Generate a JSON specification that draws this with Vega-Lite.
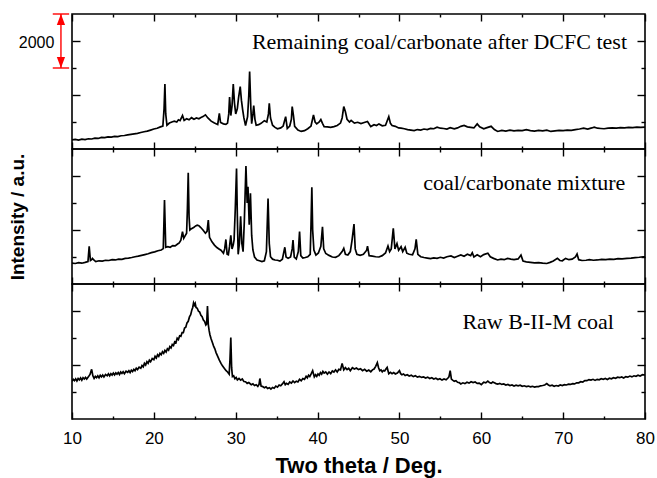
{
  "$schema": "https://vega.github.io/schema/vega-lite/v6.json",
  "background": "white",
  "padding": {"left": 7, "top": 10, "right": 12, "bottom": 4},
  "spacing": 0,
  "bounds": "flush",
  "config": {
    "view": {"stroke": "black", "strokeWidth": 1.6},
    "axis": {
      "domain": false,
      "grid": false,
      "labelFlush": false,
      "tickColor": "black",
      "tickWidth": 1.4,
      "labelFont": "Liberation Sans",
      "labelFontSize": 17,
      "labelColor": "black",
      "titleFont": "Liberation Sans",
      "titleFontWeight": "bold",
      "titleColor": "black"
    },
    "text": {"font": "Liberation Serif", "fontSize": 22, "color": "black"}
  },
  "datasets": {
    "frame": [{"x": 10, "y": 0}, {"x": 80, "y": 5000}],
    "remaining": [
      {"x":10.0,"y":340},{"x":10.4,"y":355},{"x":10.8,"y":330},{"x":11.2,"y":365},{"x":11.6,"y":350},{"x":12.0,"y":380},{"x":12.4,"y":370},{"x":12.8,"y":400},{"x":13.2,"y":390},{"x":13.6,"y":430},{"x":14.0,"y":420},{"x":14.4,"y":450},{"x":14.8,"y":440},{"x":15.2,"y":470},{"x":15.6,"y":460},{"x":16.0,"y":490},{"x":16.4,"y":500},{"x":16.8,"y":520},{"x":17.2,"y":540},{"x":17.6,"y":560},{"x":18.0,"y":580},{"x":18.4,"y":610},{"x":18.8,"y":640},{"x":19.2,"y":660},{"x":19.6,"y":700},{"x":20.0,"y":740},{"x":20.4,"y":770},{"x":20.8,"y":820},{"x":21.1,"y":850},{"x":21.25,"y":1500},{"x":21.35,"y":2410},{"x":21.45,"y":1300},{"x":21.6,"y":880},{"x":21.9,"y":960},{"x":22.2,"y":1000},{"x":22.5,"y":1030},{"x":22.8,"y":1000},{"x":23.0,"y":1080},{"x":23.2,"y":1050},{"x":23.5,"y":1240},{"x":23.7,"y":1060},{"x":24.0,"y":1120},{"x":24.3,"y":1080},{"x":24.6,"y":1160},{"x":24.9,"y":1100},{"x":25.2,"y":1150},{"x":25.5,"y":1120},{"x":25.7,"y":1160},{"x":26.0,"y":1200},{"x":26.3,"y":1265},{"x":26.6,"y":1150},{"x":27.0,"y":1030},{"x":27.4,"y":960},{"x":27.8,"y":910},{"x":28.0,"y":1320},{"x":28.15,"y":980},{"x":28.5,"y":930},{"x":28.8,"y":910},{"x":29.0,"y":960},{"x":29.15,"y":1300},{"x":29.25,"y":1920},{"x":29.4,"y":1240},{"x":29.55,"y":1600},{"x":29.7,"y":2410},{"x":29.85,"y":1700},{"x":30.0,"y":1300},{"x":30.2,"y":1500},{"x":30.35,"y":1900},{"x":30.55,"y":2310},{"x":30.7,"y":1800},{"x":30.85,"y":1450},{"x":31.0,"y":1150},{"x":31.2,"y":870},{"x":31.45,"y":1200},{"x":31.6,"y":2000},{"x":31.7,"y":2870},{"x":31.85,"y":1500},{"x":31.95,"y":940},{"x":32.1,"y":1300},{"x":32.2,"y":1610},{"x":32.35,"y":1100},{"x":32.5,"y":880},{"x":32.8,"y":900},{"x":33.1,"y":950},{"x":33.5,"y":1050},{"x":33.8,"y":1000},{"x":34.0,"y":1300},{"x":34.1,"y":1690},{"x":34.25,"y":1150},{"x":34.5,"y":880},{"x":34.8,"y":800},{"x":35.1,"y":750},{"x":35.5,"y":780},{"x":35.8,"y":850},{"x":36.1,"y":1200},{"x":36.3,"y":760},{"x":36.6,"y":850},{"x":36.8,"y":1100},{"x":36.9,"y":1570},{"x":37.05,"y":1250},{"x":37.2,"y":840},{"x":37.6,"y":700},{"x":38.0,"y":650},{"x":38.4,"y":680},{"x":38.8,"y":750},{"x":39.2,"y":850},{"x":39.5,"y":1260},{"x":39.7,"y":1000},{"x":39.9,"y":930},{"x":40.2,"y":1000},{"x":40.4,"y":1090},{"x":40.6,"y":950},{"x":40.8,"y":830},{"x":41.2,"y":820},{"x":41.6,"y":800},{"x":42.0,"y":830},{"x":42.4,"y":870},{"x":42.8,"y":960},{"x":43.0,"y":1150},{"x":43.2,"y":1570},{"x":43.4,"y":1380},{"x":43.6,"y":1100},{"x":43.9,"y":1000},{"x":44.1,"y":1060},{"x":44.5,"y":960},{"x":44.9,"y":990},{"x":45.3,"y":940},{"x":45.7,"y":980},{"x":46.1,"y":1020},{"x":46.5,"y":830},{"x":46.9,"y":900},{"x":47.2,"y":870},{"x":47.5,"y":930},{"x":47.9,"y":860},{"x":48.3,"y":880},{"x":48.7,"y":1200},{"x":48.9,"y":950},{"x":49.1,"y":870},{"x":49.5,"y":840},{"x":49.9,"y":780},{"x":50.2,"y":770},{"x":50.6,"y":750},{"x":51.0,"y":720},{"x":51.4,"y":700},{"x":51.8,"y":680},{"x":52.2,"y":720},{"x":52.6,"y":700},{"x":53.0,"y":740},{"x":53.4,"y":720},{"x":53.8,"y":760},{"x":54.2,"y":750},{"x":54.6,"y":810},{"x":55.0,"y":770},{"x":55.4,"y":760},{"x":55.8,"y":740},{"x":56.2,"y":790},{"x":56.7,"y":750},{"x":57.1,"y":780},{"x":57.5,"y":840},{"x":57.9,"y":870},{"x":58.3,"y":820},{"x":58.7,"y":800},{"x":59.1,"y":780},{"x":59.5,"y":930},{"x":59.8,"y":820},{"x":60.3,"y":750},{"x":60.7,"y":790},{"x":61.2,"y":840},{"x":61.6,"y":720},{"x":62.0,"y":650},{"x":62.5,"y":690},{"x":63.0,"y":660},{"x":63.5,"y":700},{"x":64.0,"y":670},{"x":64.5,"y":690},{"x":65.0,"y":680},{"x":65.5,"y":720},{"x":66.0,"y":680},{"x":66.5,"y":660},{"x":67.0,"y":690},{"x":67.5,"y":670},{"x":68.0,"y":700},{"x":68.5,"y":650},{"x":69.0,"y":670},{"x":69.5,"y":690},{"x":70.0,"y":680},{"x":70.5,"y":700},{"x":71.0,"y":690},{"x":71.5,"y":720},{"x":72.0,"y":740},{"x":72.5,"y":770},{"x":73.0,"y":740},{"x":73.5,"y":780},{"x":73.8,"y":810},{"x":74.2,"y":770},{"x":74.6,"y":760},{"x":75.0,"y":750},{"x":75.5,"y":770},{"x":76.0,"y":780},{"x":76.5,"y":770},{"x":77.0,"y":790},{"x":77.5,"y":780},{"x":78.0,"y":800},{"x":78.5,"y":790},{"x":79.0,"y":810},{"x":79.5,"y":800},{"x":80.0,"y":810}
    ],
    "mixture": [
      {"x":10.0,"y":770},{"x":10.4,"y":760},{"x":10.8,"y":790},{"x":11.2,"y":770},{"x":11.6,"y":800},{"x":11.95,"y":830},{"x":12.1,"y":1400},{"x":12.25,"y":870},{"x":12.4,"y":900},{"x":12.5,"y":950},{"x":12.7,"y":880},{"x":12.9,"y":830},{"x":13.3,"y":860},{"x":13.7,"y":850},{"x":14.1,"y":880},{"x":14.5,"y":870},{"x":14.9,"y":900},{"x":15.3,"y":890},{"x":15.7,"y":920},{"x":16.1,"y":910},{"x":16.5,"y":950},{"x":16.9,"y":960},{"x":17.3,"y":980},{"x":17.7,"y":1010},{"x":18.1,"y":1030},{"x":18.5,"y":1060},{"x":18.9,"y":1090},{"x":19.3,"y":1120},{"x":19.7,"y":1160},{"x":20.1,"y":1190},{"x":20.5,"y":1230},{"x":20.9,"y":1260},{"x":21.15,"y":1310},{"x":21.3,"y":3110},{"x":21.45,"y":1360},{"x":21.7,"y":1380},{"x":22.0,"y":1360},{"x":22.3,"y":1420},{"x":22.6,"y":1410},{"x":22.9,"y":1480},{"x":23.1,"y":1520},{"x":23.3,"y":1620},{"x":23.5,"y":1940},{"x":23.65,"y":1690},{"x":23.85,"y":1800},{"x":24.0,"y":1880},{"x":24.1,"y":2800},{"x":24.2,"y":4120},{"x":24.3,"y":2500},{"x":24.4,"y":2000},{"x":24.6,"y":2050},{"x":24.9,"y":2100},{"x":25.1,"y":2150},{"x":25.3,"y":2180},{"x":25.5,"y":2160},{"x":25.7,"y":2100},{"x":26.0,"y":2000},{"x":26.3,"y":1880},{"x":26.5,"y":1950},{"x":26.65,"y":2370},{"x":26.8,"y":1730},{"x":27.1,"y":1560},{"x":27.4,"y":1440},{"x":27.7,"y":1350},{"x":28.0,"y":1290},{"x":28.2,"y":1250},{"x":28.5,"y":1140},{"x":28.65,"y":1300},{"x":28.8,"y":1650},{"x":28.95,"y":1100},{"x":29.1,"y":1080},{"x":29.25,"y":1400},{"x":29.4,"y":1800},{"x":29.55,"y":1300},{"x":29.7,"y":1450},{"x":29.8,"y":1630},{"x":29.95,"y":2800},{"x":30.1,"y":4280},{"x":30.2,"y":2500},{"x":30.3,"y":1100},{"x":30.45,"y":1500},{"x":30.6,"y":2510},{"x":30.75,"y":1500},{"x":30.9,"y":1200},{"x":31.05,"y":2300},{"x":31.25,"y":4370},{"x":31.4,"y":3000},{"x":31.5,"y":3600},{"x":31.65,"y":2200},{"x":31.8,"y":3360},{"x":31.95,"y":1800},{"x":32.1,"y":1260},{"x":32.3,"y":1000},{"x":32.6,"y":890},{"x":32.9,"y":860},{"x":33.2,"y":830},{"x":33.5,"y":860},{"x":33.75,"y":1200},{"x":33.95,"y":3170},{"x":34.1,"y":1500},{"x":34.25,"y":1010},{"x":34.5,"y":920},{"x":34.8,"y":890},{"x":35.1,"y":880},{"x":35.4,"y":850},{"x":35.7,"y":920},{"x":36.0,"y":1360},{"x":36.15,"y":1000},{"x":36.4,"y":950},{"x":36.7,"y":1000},{"x":36.9,"y":1300},{"x":37.0,"y":1630},{"x":37.15,"y":1000},{"x":37.4,"y":930},{"x":37.65,"y":1200},{"x":37.8,"y":1940},{"x":37.95,"y":1050},{"x":38.2,"y":960},{"x":38.5,"y":980},{"x":38.8,"y":1010},{"x":39.1,"y":1100},{"x":39.2,"y":2200},{"x":39.3,"y":3580},{"x":39.4,"y":2000},{"x":39.55,"y":1260},{"x":39.8,"y":1070},{"x":40.1,"y":1150},{"x":40.4,"y":1400},{"x":40.6,"y":2120},{"x":40.75,"y":1300},{"x":41.0,"y":1130},{"x":41.4,"y":1060},{"x":41.8,"y":1000},{"x":42.2,"y":990},{"x":42.6,"y":1050},{"x":43.0,"y":1200},{"x":43.2,"y":1320},{"x":43.4,"y":1100},{"x":43.7,"y":1070},{"x":44.0,"y":1200},{"x":44.2,"y":1600},{"x":44.45,"y":2220},{"x":44.6,"y":1300},{"x":44.8,"y":1100},{"x":45.2,"y":1060},{"x":45.6,"y":1100},{"x":46.0,"y":1250},{"x":46.1,"y":1400},{"x":46.3,"y":1050},{"x":46.7,"y":1030},{"x":47.1,"y":1010},{"x":47.5,"y":1000},{"x":47.9,"y":1050},{"x":48.3,"y":1150},{"x":48.6,"y":1410},{"x":48.8,"y":1200},{"x":49.0,"y":1300},{"x":49.25,"y":2060},{"x":49.45,"y":1300},{"x":49.7,"y":1500},{"x":49.9,"y":1250},{"x":50.2,"y":1380},{"x":50.4,"y":1200},{"x":50.7,"y":1360},{"x":50.9,"y":1140},{"x":51.2,"y":1100},{"x":51.6,"y":1080},{"x":51.9,"y":1300},{"x":52.05,"y":1650},{"x":52.25,"y":1100},{"x":52.6,"y":1010},{"x":53.0,"y":980},{"x":53.4,"y":960},{"x":53.8,"y":940},{"x":54.2,"y":970},{"x":54.6,"y":950},{"x":55.0,"y":990},{"x":55.4,"y":960},{"x":55.8,"y":1010},{"x":56.3,"y":1040},{"x":56.7,"y":980},{"x":57.1,"y":1030},{"x":57.5,"y":1080},{"x":57.9,"y":1030},{"x":58.3,"y":1100},{"x":58.7,"y":1050},{"x":58.9,"y":1160},{"x":59.1,"y":1000},{"x":59.5,"y":1080},{"x":59.9,"y":1010},{"x":60.3,"y":1090},{"x":60.8,"y":1140},{"x":61.1,"y":1010},{"x":61.5,"y":950},{"x":62.0,"y":890},{"x":62.4,"y":920},{"x":62.8,"y":900},{"x":63.2,"y":950},{"x":63.6,"y":920},{"x":64.0,"y":900},{"x":64.5,"y":930},{"x":64.85,"y":1070},{"x":65.1,"y":850},{"x":65.5,"y":820},{"x":66.0,"y":800},{"x":66.5,"y":780},{"x":67.0,"y":790},{"x":67.5,"y":770},{"x":68.0,"y":760},{"x":68.4,"y":800},{"x":68.8,"y":850},{"x":69.3,"y":950},{"x":69.6,"y":870},{"x":69.9,"y":860},{"x":70.3,"y":950},{"x":70.7,"y":900},{"x":71.1,"y":920},{"x":71.5,"y":1000},{"x":71.7,"y":1110},{"x":71.9,"y":900},{"x":72.3,"y":870},{"x":72.8,"y":880},{"x":73.2,"y":900},{"x":73.7,"y":880},{"x":74.2,"y":890},{"x":74.7,"y":910},{"x":75.2,"y":900},{"x":75.7,"y":920},{"x":76.2,"y":910},{"x":76.7,"y":940},{"x":77.2,"y":930},{"x":77.8,"y":950},{"x":78.3,"y":960},{"x":78.8,"y":980},{"x":79.3,"y":990},{"x":79.8,"y":1010},{"x":80.0,"y":1010}
    ],
    "raw": [
      {"x":10.0,"y":1400},{"x":10.15,"y":1470},{"x":10.3,"y":1420},{"x":10.45,"y":1490},{"x":10.6,"y":1410},{"x":10.75,"y":1500},{"x":10.9,"y":1450},{"x":11.05,"y":1520},{"x":11.2,"y":1440},{"x":11.35,"y":1530},{"x":11.5,"y":1480},{"x":11.65,"y":1540},{"x":11.8,"y":1480},{"x":12.0,"y":1560},{"x":12.2,"y":1650},{"x":12.4,"y":1840},{"x":12.55,"y":1600},{"x":12.7,"y":1500},{"x":12.85,"y":1580},{"x":13.0,"y":1530},{"x":13.15,"y":1600},{"x":13.3,"y":1530},{"x":13.45,"y":1620},{"x":13.6,"y":1560},{"x":13.75,"y":1630},{"x":13.9,"y":1560},{"x":14.1,"y":1650},{"x":14.3,"y":1600},{"x":14.45,"y":1670},{"x":14.6,"y":1600},{"x":14.75,"y":1680},{"x":14.9,"y":1630},{"x":15.05,"y":1700},{"x":15.2,"y":1630},{"x":15.35,"y":1710},{"x":15.5,"y":1660},{"x":15.65,"y":1720},{"x":15.8,"y":1650},{"x":15.95,"y":1740},{"x":16.1,"y":1690},{"x":16.25,"y":1750},{"x":16.4,"y":1680},{"x":16.6,"y":1770},{"x":16.8,"y":1730},{"x":16.95,"y":1790},{"x":17.1,"y":1720},{"x":17.25,"y":1810},{"x":17.4,"y":1760},{"x":17.55,"y":1840},{"x":17.7,"y":1790},{"x":17.85,"y":1880},{"x":18.0,"y":1830},{"x":18.2,"y":1920},{"x":18.4,"y":1880},{"x":18.55,"y":1980},{"x":18.7,"y":1930},{"x":18.85,"y":2060},{"x":19.0,"y":2000},{"x":19.15,"y":2120},{"x":19.3,"y":2060},{"x":19.45,"y":2180},{"x":19.6,"y":2120},{"x":19.8,"y":2240},{"x":20.0,"y":2200},{"x":20.15,"y":2320},{"x":20.3,"y":2260},{"x":20.45,"y":2380},{"x":20.6,"y":2320},{"x":20.75,"y":2430},{"x":20.9,"y":2380},{"x":21.05,"y":2490},{"x":21.2,"y":2430},{"x":21.35,"y":2540},{"x":21.5,"y":2480},{"x":21.65,"y":2600},{"x":21.8,"y":2550},{"x":21.95,"y":2680},{"x":22.1,"y":2630},{"x":22.25,"y":2760},{"x":22.4,"y":2720},{"x":22.55,"y":2860},{"x":22.7,"y":2830},{"x":22.85,"y":2990},{"x":23.0,"y":2940},{"x":23.15,"y":3080},{"x":23.3,"y":3060},{"x":23.45,"y":3200},{"x":23.6,"y":3200},{"x":23.75,"y":3370},{"x":23.9,"y":3400},{"x":24.05,"y":3560},{"x":24.2,"y":3620},{"x":24.35,"y":3780},{"x":24.5,"y":3860},{"x":24.65,"y":4050},{"x":24.75,"y":4130},{"x":24.85,"y":4300},{"x":24.95,"y":4220},{"x":25.05,"y":4280},{"x":25.15,"y":4130},{"x":25.3,"y":4100},{"x":25.45,"y":3990},{"x":25.6,"y":3960},{"x":25.75,"y":3840},{"x":25.9,"y":3790},{"x":26.05,"y":3660},{"x":26.2,"y":3610},{"x":26.35,"y":3480},{"x":26.45,"y":3520},{"x":26.55,"y":4180},{"x":26.65,"y":3500},{"x":26.75,"y":3280},{"x":26.85,"y":3120},{"x":27.0,"y":2960},{"x":27.15,"y":2830},{"x":27.3,"y":2700},{"x":27.45,"y":2600},{"x":27.6,"y":2460},{"x":27.8,"y":2320},{"x":28.0,"y":2180},{"x":28.2,"y":2060},{"x":28.4,"y":1960},{"x":28.6,"y":1880},{"x":28.8,"y":1800},{"x":29.0,"y":1740},{"x":29.2,"y":1660},{"x":29.3,"y":2200},{"x":29.4,"y":3020},{"x":29.5,"y":1900},{"x":29.6,"y":1570},{"x":29.75,"y":1600},{"x":29.9,"y":1490},{"x":30.05,"y":1540},{"x":30.2,"y":1450},{"x":30.4,"y":1500},{"x":30.6,"y":1440},{"x":30.8,"y":1480},{"x":31.0,"y":1390},{"x":31.2,"y":1380},{"x":31.4,"y":1320},{"x":31.6,"y":1350},{"x":31.9,"y":1270},{"x":32.1,"y":1300},{"x":32.3,"y":1240},{"x":32.5,"y":1270},{"x":32.7,"y":1210},{"x":32.85,"y":1280},{"x":32.95,"y":1500},{"x":33.1,"y":1220},{"x":33.3,"y":1200},{"x":33.5,"y":1160},{"x":33.7,"y":1190},{"x":33.9,"y":1130},{"x":34.1,"y":1160},{"x":34.3,"y":1110},{"x":34.5,"y":1170},{"x":34.7,"y":1140},{"x":34.9,"y":1220},{"x":35.1,"y":1180},{"x":35.3,"y":1260},{"x":35.5,"y":1230},{"x":35.7,"y":1300},{"x":35.9,"y":1380},{"x":36.05,"y":1270},{"x":36.2,"y":1320},{"x":36.4,"y":1280},{"x":36.6,"y":1370},{"x":36.8,"y":1330},{"x":37.0,"y":1410},{"x":37.2,"y":1350},{"x":37.4,"y":1400},{"x":37.6,"y":1370},{"x":37.8,"y":1470},{"x":38.0,"y":1420},{"x":38.2,"y":1500},{"x":38.4,"y":1470},{"x":38.6,"y":1580},{"x":38.75,"y":1520},{"x":38.9,"y":1620},{"x":39.05,"y":1570},{"x":39.2,"y":1660},{"x":39.4,"y":1790},{"x":39.6,"y":1560},{"x":39.75,"y":1640},{"x":39.9,"y":1580},{"x":40.05,"y":1670},{"x":40.2,"y":1620},{"x":40.35,"y":1720},{"x":40.5,"y":1660},{"x":40.65,"y":1760},{"x":40.8,"y":1700},{"x":41.0,"y":1740},{"x":41.2,"y":1660},{"x":41.4,"y":1740},{"x":41.6,"y":1680},{"x":41.8,"y":1780},{"x":42.0,"y":1740},{"x":42.2,"y":1820},{"x":42.4,"y":1740},{"x":42.6,"y":1840},{"x":42.8,"y":1820},{"x":43.0,"y":2060},{"x":43.2,"y":1820},{"x":43.4,"y":1900},{"x":43.6,"y":1830},{"x":43.8,"y":1880},{"x":44.0,"y":1790},{"x":44.25,"y":1900},{"x":44.5,"y":1850},{"x":44.75,"y":1890},{"x":45.0,"y":1830},{"x":45.25,"y":1860},{"x":45.5,"y":1790},{"x":45.75,"y":1840},{"x":46.0,"y":1770},{"x":46.25,"y":1810},{"x":46.5,"y":1750},{"x":46.7,"y":1820},{"x":46.9,"y":1850},{"x":47.1,"y":1950},{"x":47.3,"y":2090},{"x":47.45,"y":1900},{"x":47.6,"y":1790},{"x":47.75,"y":1820},{"x":47.9,"y":1750},{"x":48.05,"y":1800},{"x":48.2,"y":1780},{"x":48.35,"y":1850},{"x":48.5,"y":1910},{"x":48.7,"y":1680},{"x":48.9,"y":1730},{"x":49.1,"y":1680},{"x":49.3,"y":1720},{"x":49.5,"y":1670},{"x":49.75,"y":1700},{"x":50.0,"y":1790},{"x":50.15,"y":1680},{"x":50.3,"y":1640},{"x":50.5,"y":1670},{"x":50.7,"y":1610},{"x":50.95,"y":1640},{"x":51.2,"y":1590},{"x":51.45,"y":1620},{"x":51.7,"y":1570},{"x":51.95,"y":1600},{"x":52.2,"y":1550},{"x":52.45,"y":1580},{"x":52.7,"y":1540},{"x":52.95,"y":1560},{"x":53.2,"y":1520},{"x":53.45,"y":1550},{"x":53.7,"y":1500},{"x":53.95,"y":1530},{"x":54.2,"y":1480},{"x":54.45,"y":1510},{"x":54.7,"y":1460},{"x":54.95,"y":1490},{"x":55.2,"y":1440},{"x":55.45,"y":1480},{"x":55.7,"y":1450},{"x":55.9,"y":1510},{"x":56.05,"y":1560},{"x":56.2,"y":1790},{"x":56.35,"y":1480},{"x":56.5,"y":1440},{"x":56.7,"y":1400},{"x":56.9,"y":1420},{"x":57.1,"y":1360},{"x":57.3,"y":1350},{"x":57.5,"y":1300},{"x":57.75,"y":1340},{"x":58.0,"y":1310},{"x":58.25,"y":1360},{"x":58.5,"y":1330},{"x":58.75,"y":1380},{"x":59.0,"y":1350},{"x":59.25,"y":1370},{"x":59.5,"y":1320},{"x":59.75,"y":1330},{"x":60.0,"y":1270},{"x":60.15,"y":1320},{"x":60.3,"y":1360},{"x":60.55,"y":1340},{"x":60.8,"y":1400},{"x":61.0,"y":1350},{"x":61.2,"y":1320},{"x":61.4,"y":1370},{"x":61.6,"y":1340},{"x":61.8,"y":1310},{"x":62.0,"y":1290},{"x":62.25,"y":1320},{"x":62.5,"y":1280},{"x":62.75,"y":1300},{"x":63.0,"y":1260},{"x":63.25,"y":1280},{"x":63.5,"y":1240},{"x":63.75,"y":1260},{"x":64.0,"y":1220},{"x":64.25,"y":1250},{"x":64.5,"y":1230},{"x":64.75,"y":1250},{"x":65.0,"y":1210},{"x":65.25,"y":1230},{"x":65.5,"y":1200},{"x":65.75,"y":1220},{"x":66.0,"y":1190},{"x":66.25,"y":1210},{"x":66.5,"y":1180},{"x":66.75,"y":1200},{"x":67.0,"y":1200},{"x":67.25,"y":1230},{"x":67.5,"y":1240},{"x":67.75,"y":1260},{"x":68.0,"y":1310},{"x":68.2,"y":1260},{"x":68.4,"y":1230},{"x":68.65,"y":1250},{"x":68.9,"y":1210},{"x":69.15,"y":1240},{"x":69.4,"y":1220},{"x":69.65,"y":1260},{"x":69.9,"y":1240},{"x":70.15,"y":1270},{"x":70.4,"y":1260},{"x":70.65,"y":1290},{"x":70.9,"y":1280},{"x":71.15,"y":1310},{"x":71.4,"y":1300},{"x":71.65,"y":1340},{"x":71.9,"y":1340},{"x":72.15,"y":1380},{"x":72.4,"y":1370},{"x":72.65,"y":1420},{"x":72.9,"y":1420},{"x":73.15,"y":1460},{"x":73.4,"y":1440},{"x":73.65,"y":1470},{"x":73.9,"y":1430},{"x":74.15,"y":1470},{"x":74.4,"y":1450},{"x":74.65,"y":1490},{"x":74.9,"y":1470},{"x":75.15,"y":1500},{"x":75.4,"y":1460},{"x":75.65,"y":1510},{"x":75.9,"y":1490},{"x":76.15,"y":1530},{"x":76.4,"y":1510},{"x":76.65,"y":1550},{"x":76.9,"y":1530},{"x":77.15,"y":1560},{"x":77.4,"y":1520},{"x":77.65,"y":1570},{"x":77.9,"y":1550},{"x":78.15,"y":1590},{"x":78.4,"y":1560},{"x":78.65,"y":1600},{"x":78.9,"y":1580},{"x":79.15,"y":1620},{"x":79.4,"y":1590},{"x":79.7,"y":1640},{"x":80.0,"y":1630}
    ]
  },
  "vconcat": [
    {
      "width": 573, "height": 135,
      "resolve": {"axis": {"x": "independent", "y": "independent"}},
      "layer": [
        {"data": {"name": "remaining"}, "mark": {"type": "line", "color": "black", "strokeWidth": 1.7, "clip": true},
         "encoding": {
           "x": {"field": "x", "type": "quantitative", "scale": {"domain": [10, 80], "nice": false, "zero": false}, "axis": {"orient": "bottom", "values": [10,20,30,40,50,60,70,80], "tickSize": -7, "labels": false, "title": null}},
           "y": {"field": "y", "type": "quantitative", "scale": {"domain": [0, 5000], "nice": false}, "axis": {"orient": "left", "values": [2000, 4000], "tickSize": -8, "labels": false, "title": null}}}},
        {"data": {"name": "frame"}, "mark": {"type": "point", "opacity": 0},
         "encoding": {
           "x": {"field": "x", "type": "quantitative", "axis": {"orient": "bottom", "values": [15,25,35,45,55,65,75], "tickSize": -3, "labels": false, "title": null}},
           "y": {"field": "y", "type": "quantitative", "axis": {"orient": "left", "values": [1000, 3000], "tickSize": -4, "labels": false, "title": null}}}},
        {"data": {"name": "frame"}, "mark": {"type": "point", "opacity": 0},
         "encoding": {
           "x": {"field": "x", "type": "quantitative", "axis": {"orient": "top", "values": [10,20,30,40,50,60,70,80], "tickSize": -7, "labels": false, "title": null}},
           "y": {"field": "y", "type": "quantitative", "axis": {"orient": "right", "values": [2000, 4000], "tickSize": -8, "labels": false, "title": null}}}},
        {"data": {"name": "frame"}, "mark": {"type": "point", "opacity": 0},
         "encoding": {
           "x": {"field": "x", "type": "quantitative", "axis": {"orient": "top", "values": [15,25,35,45,55,65,75], "tickSize": -3, "labels": false, "title": null}},
           "y": {"field": "y", "type": "quantitative", "axis": {"orient": "right", "values": [1000, 3000], "tickSize": -4, "labels": false, "title": null}}}},
        {"data": {"values": [{"label": "Remaining coal/carbonate after DCFC test"}]},
         "mark": {"type": "text", "align": "right", "baseline": "middle"},
         "encoding": {"x": {"datum": 77.8, "type": "quantitative", "axis": null}, "y": {"datum": 3950, "type": "quantitative", "axis": null}, "text": {"field": "label"}}},
        {"data": {"values": [{"lo": 3000, "hi": 5000, "label": "2000"}]},
         "layer": [
           {"mark": {"type": "rule", "color": "#ff0000", "strokeWidth": 1.4},
            "encoding": {"x": {"datum": 8.65, "type": "quantitative", "axis": null}, "y": {"field": "lo", "type": "quantitative", "axis": null}, "y2": {"field": "hi"}}},
           {"mark": {"type": "rule", "color": "#ff0000", "strokeWidth": 1.4},
            "encoding": {"x": {"datum": 7.65, "type": "quantitative", "axis": null}, "x2": {"datum": 9.65}, "y": {"field": "hi", "type": "quantitative", "axis": null}}},
           {"mark": {"type": "rule", "color": "#ff0000", "strokeWidth": 1.4},
            "encoding": {"x": {"datum": 7.65, "type": "quantitative", "axis": null}, "x2": {"datum": 9.65}, "y": {"field": "lo", "type": "quantitative", "axis": null}}},
           {"mark": {"type": "point", "shape": "M-0.75,1L0,-1L0.75,1Z", "size": 121, "filled": true, "color": "#ff0000", "opacity": 1, "yOffset": 5.5},
            "encoding": {"x": {"datum": 8.65, "type": "quantitative", "axis": null}, "y": {"field": "hi", "type": "quantitative", "axis": null}}},
           {"mark": {"type": "point", "shape": "M-0.75,-1L0,1L0.75,-1Z", "size": 121, "filled": true, "color": "#ff0000", "opacity": 1, "yOffset": -5.5},
            "encoding": {"x": {"datum": 8.65, "type": "quantitative", "axis": null}, "y": {"field": "lo", "type": "quantitative", "axis": null}}},
           {"mark": {"type": "text", "font": "Liberation Sans", "fontSize": 16, "align": "right", "baseline": "middle"},
            "encoding": {"x": {"datum": 7.85, "type": "quantitative", "axis": null}, "y": {"datum": 3930, "type": "quantitative", "axis": null}, "text": {"field": "label"}}}
         ]}
      ]
    },
    {
      "width": 573, "height": 135,
      "resolve": {"axis": {"x": "independent", "y": "independent"}},
      "layer": [
        {"data": {"name": "mixture"}, "mark": {"type": "line", "color": "black", "strokeWidth": 1.7, "clip": true},
         "encoding": {
           "x": {"field": "x", "type": "quantitative", "scale": {"domain": [10, 80], "nice": false, "zero": false}, "axis": {"orient": "bottom", "values": [10,20,30,40,50,60,70,80], "tickSize": -7, "labels": false, "title": null}},
           "y": {"field": "y", "type": "quantitative", "scale": {"domain": [0, 5000], "nice": false}, "axis": {"orient": "left", "values": [2000, 4000], "tickSize": -8, "labels": false, "title": "Intensity / a.u.", "titleFontSize": 19, "titlePadding": 44}}}},
        {"data": {"name": "frame"}, "mark": {"type": "point", "opacity": 0},
         "encoding": {
           "x": {"field": "x", "type": "quantitative", "axis": {"orient": "bottom", "values": [15,25,35,45,55,65,75], "tickSize": -3, "labels": false, "title": null}},
           "y": {"field": "y", "type": "quantitative", "axis": {"orient": "left", "values": [1000, 3000], "tickSize": -4, "labels": false, "title": null}}}},
        {"data": {"name": "frame"}, "mark": {"type": "point", "opacity": 0},
         "encoding": {
           "x": {"field": "x", "type": "quantitative", "axis": {"orient": "top", "values": [10,20,30,40,50,60,70,80], "tickSize": -7, "labels": false, "title": null}},
           "y": {"field": "y", "type": "quantitative", "axis": {"orient": "right", "values": [2000, 4000], "tickSize": -8, "labels": false, "title": null}}}},
        {"data": {"name": "frame"}, "mark": {"type": "point", "opacity": 0},
         "encoding": {
           "x": {"field": "x", "type": "quantitative", "axis": {"orient": "top", "values": [15,25,35,45,55,65,75], "tickSize": -3, "labels": false, "title": null}},
           "y": {"field": "y", "type": "quantitative", "axis": {"orient": "right", "values": [1000, 3000], "tickSize": -4, "labels": false, "title": null}}}},
        {"data": {"values": [{"label": "coal/carbonate mixture"}]},
         "mark": {"type": "text", "align": "right", "baseline": "middle"},
         "encoding": {"x": {"datum": 77.6, "type": "quantitative", "axis": null}, "y": {"datum": 3740, "type": "quantitative", "axis": null}, "text": {"field": "label"}}}
      ]
    },
    {
      "width": 573, "height": 135,
      "resolve": {"axis": {"x": "independent", "y": "independent"}},
      "layer": [
        {"data": {"name": "raw"}, "mark": {"type": "line", "color": "black", "strokeWidth": 1.7, "clip": true},
         "encoding": {
           "x": {"field": "x", "type": "quantitative", "scale": {"domain": [10, 80], "nice": false, "zero": false}, "axis": {"orient": "bottom", "values": [10,20,30,40,50,60,70,80], "tickSize": -7, "labelPadding": 18, "title": "Two theta / Deg.", "titleFontSize": 22, "titlePadding": 9}},
           "y": {"field": "y", "type": "quantitative", "scale": {"domain": [0, 5000], "nice": false}, "axis": {"orient": "left", "values": [2000, 4000], "tickSize": -8, "labels": false, "title": null}}}},
        {"data": {"name": "frame"}, "mark": {"type": "point", "opacity": 0},
         "encoding": {
           "x": {"field": "x", "type": "quantitative", "axis": {"orient": "bottom", "values": [15,25,35,45,55,65,75], "tickSize": -3, "labels": false, "title": null}},
           "y": {"field": "y", "type": "quantitative", "axis": {"orient": "left", "values": [1000, 3000], "tickSize": -4, "labels": false, "title": null}}}},
        {"data": {"name": "frame"}, "mark": {"type": "point", "opacity": 0},
         "encoding": {
           "x": {"field": "x", "type": "quantitative", "axis": {"orient": "top", "values": [10,20,30,40,50,60,70,80], "tickSize": -7, "labels": false, "title": null}},
           "y": {"field": "y", "type": "quantitative", "axis": {"orient": "right", "values": [2000, 4000], "tickSize": -8, "labels": false, "title": null}}}},
        {"data": {"name": "frame"}, "mark": {"type": "point", "opacity": 0},
         "encoding": {
           "x": {"field": "x", "type": "quantitative", "axis": {"orient": "top", "values": [15,25,35,45,55,65,75], "tickSize": -3, "labels": false, "title": null}},
           "y": {"field": "y", "type": "quantitative", "axis": {"orient": "right", "values": [1000, 3000], "tickSize": -4, "labels": false, "title": null}}}},
        {"data": {"values": [{"label": "Raw B-II-M coal"}]},
         "mark": {"type": "text", "align": "right", "baseline": "middle"},
         "encoding": {"x": {"datum": 76.2, "type": "quantitative", "axis": null}, "y": {"datum": 3590, "type": "quantitative", "axis": null}, "text": {"field": "label"}}}
      ]
    }
  ]
}
